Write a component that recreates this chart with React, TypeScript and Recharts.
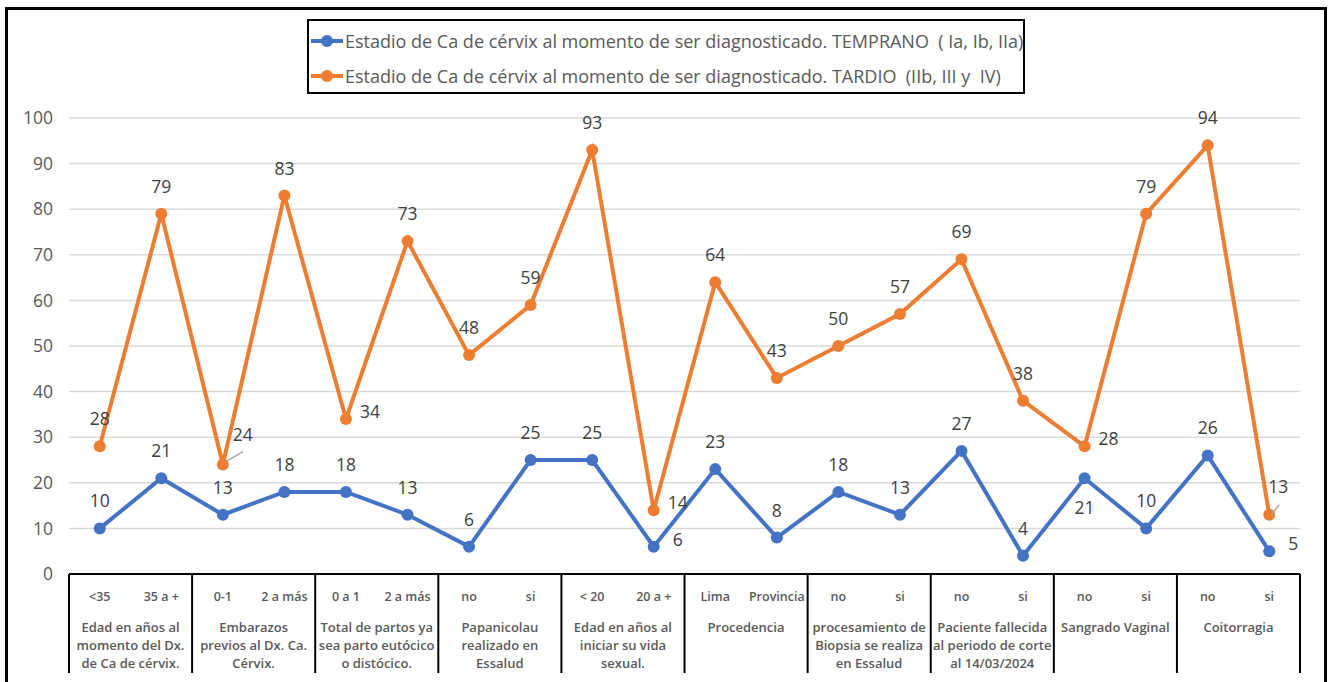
import React from 'react';
import { LineChart, Line, XAxis, YAxis, CartesianGrid } from 'recharts';

const categories = [
  '<35', '35 a +', '0-1', '2 a más', '0 a 1', '2 a más', 'no', 'si', '< 20', '20 a +',
  'Lima', 'Provincia', 'no', 'si', 'no', 'si', 'no', 'si', 'no', 'si',
];

const groups = [
  ['Edad en años al', 'momento del Dx.', 'de Ca de cérvix.'],
  ['Embarazos', 'previos al Dx. Ca.', 'Cérvix.'],
  ['Total de partos ya', 'sea parto eutócico', 'o distócico.'],
  ['Papanicolau', 'realizado en', 'Essalud'],
  ['Edad en años al', 'iniciar su vida', 'sexual.'],
  ['Procedencia'],
  ['procesamiento de', 'Biopsia se realiza', 'en Essalud'],
  ['Paciente fallecida', 'al periodo de corte', 'al 14/03/2024'],
  ['Sangrado Vaginal'],
  ['Coitorragia'],
];

const temprano = [10, 21, 13, 18, 18, 13, 6, 25, 25, 6, 23, 8, 18, 13, 27, 4, 21, 10, 26, 5];
const tardio = [28, 79, 24, 83, 34, 73, 48, 59, 93, 14, 64, 43, 50, 57, 69, 38, 28, 79, 94, 13];

const yTicks = [0, 10, 20, 30, 40, 50, 60, 70, 80, 90, 100];

const names = {
  temprano: 'Estadio de Ca de cérvix al momento de ser diagnosticado. TEMPRANO  ( Ia, Ib, IIa)',
  tardio: 'Estadio de Ca de cérvix al momento de ser diagnosticado. TARDIO  (IIb, III y  IV)',
};

// where Excel put each data label
const tempranoPos = ['t', 't', 't', 't', 't', 't', 't', 't', 't', 'r', 't', 't', 't', 't', 't', 't', 'b', 't', 't', 'r'];
const tardioPos = ['t', 't', 'l1', 't', 'r', 't', 't', 't', 't', 'r', 't', 't', 't', 't', 't', 't', 'r', 't', 't', 'l2'];

const BLUE = '#4472C4';
const ORANGE = '#ED7D31';
const FONT = '"Open Sans", sans-serif';

const data = categories.map((c, i) => ({ idx: i, temprano: temprano[i], tardio: tardio[i] }));

const makeLabel = (pos: string[]) => (props: any) => {
  const { x, y, value, index } = props;
  const p = pos[index];
  let tx = x;
  let ty = y - 28;
  let lead = null;
  if (p === 'b') ty = y + 29;
  if (p === 'r') { tx = x + 24; ty = y - 8; }
  if (p === 'l1') {
    tx = x + 20; ty = y - 31;
    lead = <line x1={x + 3} y1={y - 3} x2={x + 20} y2={y - 13} stroke="#a6a6a6" strokeWidth={1.5} />;
  }
  if (p === 'l2') {
    tx = x + 9; ty = y - 29;
    lead = <line x1={x + 2} y1={y} x2={x + 10} y2={y - 10} stroke="#a6a6a6" strokeWidth={1.5} />;
  }
  return (
    <g key={`lb-${index}`}>
      {lead}
      <text x={tx} y={ty} textAnchor="middle" dominantBaseline="central" fill="#404040" fontSize={17.5} fontFamily={FONT}>
        {value}
      </text>
    </g>
  );
};

const makeDot = (color: string) => (props: any) => (
  <circle key={`d-${props.index}`} cx={props.cx} cy={props.cy} r={6} fill={color} />
);

const CatTick = (props: any) => {
  const { x, y, payload } = props;
  const i = payload.index;
  const half = 30.75;
  const top = y;
  const g = Math.floor(i / 2);
  return (
    <g>
      <text x={x} y={top + 22} textAnchor="middle" dominantBaseline="central" fill="#595959" fontSize={12.5} fontWeight={600} fontFamily={FONT}>
        {categories[i]}
      </text>
      {i % 2 === 0 && (
        <>
          <line x1={x - half} y1={top} x2={x - half} y2={top + 99} stroke="#000" strokeWidth={2} />
          {groups[g].map((t, k) => (
            <text key={k} x={x + half} y={top + 53 + k * 18} textAnchor="middle" dominantBaseline="central" fill="#595959" fontSize={13} fontWeight={600} fontFamily={FONT}>
              {t}
            </text>
          ))}
        </>
      )}
      {i === categories.length - 1 && (
        <line x1={x + half} y1={top} x2={x + half} y2={top + 99} stroke="#000" strokeWidth={2} />
      )}
    </g>
  );
};

const LegendBox = () => (
  <div style={{ position: 'absolute', left: 307, top: 19, border: '2px solid #000', width: 718, height: 75, boxSizing: 'border-box', background: '#fff', fontFamily: FONT }}>
    {[{ c: BLUE, n: names.temprano }, { c: ORANGE, n: names.tardio }].map((it, k) => (
      <div key={k} style={{ display: 'flex', alignItems: 'center', height: 35, marginTop: k === 0 ? 2 : 0 }}>
        <svg width={36} height={14} style={{ flex: 'none' }}>
          <line x1={2} y1={7} x2={34} y2={7} stroke={it.c} strokeWidth={4} />
          <circle cx={18} cy={7} r={6} fill={it.c} />
        </svg>
        <span style={{ color: '#595959', fontSize: 18, whiteSpace: 'pre' }}>{it.n}</span>
      </div>
    ))}
  </div>
);

export default function App() {
  return (
    <div style={{ position: 'absolute', left: 0, top: 0, width: 1331, height: 682, overflow: 'hidden', background: '#fff' }}>
      <div style={{ position: 'absolute', left: 5, top: 7, width: 1322, height: 675, boxSizing: 'border-box', borderTop: '3px solid #000', borderLeft: '3px solid #000', borderRight: '3px solid #000' }} />
      <LineChart width={1331} height={682} data={data} margin={{ top: 118, right: 31, bottom: 0, left: 9 }} style={{ position: 'absolute', left: 0, top: 0 }}>
        <CartesianGrid vertical={false} stroke="#d9d9d9" strokeWidth={1.5} />
        <XAxis
          dataKey="idx"
          type="category"
          height={108}
          interval={0}
          padding={{ left: 30.75, right: 30.75 }}
          axisLine={{ stroke: '#000', strokeWidth: 2 }}
          tickLine={false}
          tickSize={0}
          tickMargin={0}
          tick={<CatTick />}
        />
        <YAxis
          width={60}
          domain={[0, 100]}
          ticks={yTicks}
          axisLine={false}
          tickLine={false}
          tickMargin={10}
          tick={{ fill: '#595959', fontSize: 17.5, fontFamily: FONT }}
        />
        <Line
          dataKey="temprano"
          name={names.temprano}
          stroke={BLUE}
          strokeWidth={4}
          dot={makeDot(BLUE)}
          label={makeLabel(tempranoPos)}
          isAnimationActive={false}
        />
        <Line
          dataKey="tardio"
          name={names.tardio}
          stroke={ORANGE}
          strokeWidth={4}
          dot={makeDot(ORANGE)}
          label={makeLabel(tardioPos)}
          isAnimationActive={false}
        />
      </LineChart>
      <LegendBox />
    </div>
  );
}
